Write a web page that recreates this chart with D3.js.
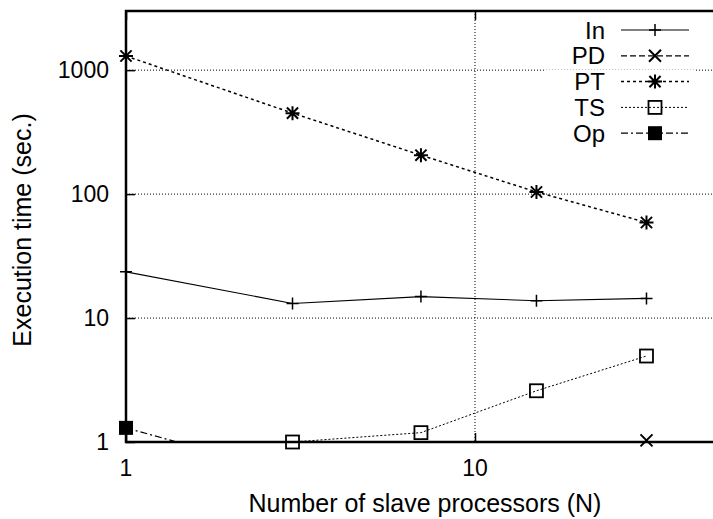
<!DOCTYPE html>
<html>
<head>
<meta charset="utf-8">
<script src="https://cdnjs.cloudflare.com/ajax/libs/d3/7.8.5/d3.min.js"></script>
<style>
  body { margin: 0; background: #fff; }
  text { font-family: "Liberation Sans", Arial, sans-serif; fill: #000; }
</style>
</head>
<body>
<script>
// Execution time vs number of slave processors (log-log)
// ---------------------------------------------
var procs   = [1, 3, 7, 15, 31];
var inTimes = [23.6, 13.1, 14.9, 13.8, 14.4];
var pdTimes = [null, null, null, null, 1.03];
var ptTimes = [1300, 450, 206, 104, 59];
var tsTimes = [null, 1.0, 1.19, 2.59, 4.94];
var opTimes = [1.3, 0.55, null, null, null];

var seriesNames = ['In', 'PD', 'PT', 'TS', 'Op'];
var yTickLabels = [1, 10, 100, 1000];
var xTickLabels = [1, 10];

var w = 713;
var h = 519;
var plotLeft = 126, plotTop = 11, plotBottom = 442;
var decadeX = 349;

var x = d3.scaleLog().domain([1, 50]).range([plotLeft, plotLeft + decadeX * Math.log10(50)]);
var y = d3.scaleLog().domain([1, 3000]).range([plotBottom, plotTop]);
var plotRight = x.range()[1];

var svg = d3.select('body').append('svg').attr('width', w).attr('height', h);

svg.append('defs').append('clipPath').attr('id', 'plot')
  .append('rect').attr('x', plotLeft).attr('y', plotTop)
  .attr('width', plotRight - plotLeft).attr('height', plotBottom - plotTop);

// grid
svg.append('g').selectAll('line').data([10, 100, 1000]).enter().append('line')
  .attr('x1', plotLeft).attr('x2', plotRight)
  .attr('y1', function(d) { return y(d); }).attr('y2', function(d) { return y(d); })
  .attr('stroke', '#000').attr('stroke-width', 1).attr('stroke-dasharray', '1,2');
svg.append('g').selectAll('line').data([10]).enter().append('line')
  .attr('y1', plotTop).attr('y2', plotBottom)
  .attr('x1', function(d) { return x(d); }).attr('x2', function(d) { return x(d); })
  .attr('stroke', '#000').attr('stroke-width', 1).attr('stroke-dasharray', '1,2');

// minor tick values
var yMinor = [], xMinor = [];
[1, 10, 100, 1000].forEach(function(b) {
  for (var k = 2; k <= 9; k++) if (b * k <= 3000) yMinor.push(b * k);
});
[1, 10].forEach(function(b) {
  for (var k = 2; k <= 9; k++) if (b * k <= 50) xMinor.push(b * k);
});

// left axis (ticks inward)
var yAxis = svg.append('g').attr('transform', 'translate(' + plotLeft + ',0)');
yAxis.call(d3.axisRight(y).tickValues(yMinor).tickSize(5).tickFormat(''));
yAxis.call(d3.axisRight(y).tickValues(yTickLabels).tickSize(9).tickFormat(''));
yAxis.selectAll('.domain').remove();
yAxis.selectAll('line').attr('stroke-width', 1.5);

svg.append('g').selectAll('text').data(yTickLabels).enter().append('text')
  .attr('x', plotLeft - 17).attr('y', function(d) { return y(d); })
  .attr('dy', '0.36em').attr('text-anchor', 'end')
  .attr('font-size', '23px').text(function(d) { return d; });

// bottom axis (ticks inward)
var xAxis = svg.append('g').attr('transform', 'translate(0,' + plotBottom + ')');
xAxis.call(d3.axisTop(x).tickValues(xMinor).tickSize(5).tickFormat(''));
xAxis.call(d3.axisTop(x).tickValues(xTickLabels).tickSize(9).tickFormat(''));
xAxis.selectAll('.domain').remove();
xAxis.selectAll('line').attr('stroke-width', 1.5);

// top border ticks
var xTop = svg.append('g').attr('transform', 'translate(0,' + plotTop + ')');
xTop.call(d3.axisBottom(x).tickValues(xMinor).tickSize(5).tickFormat(''));
xTop.call(d3.axisBottom(x).tickValues(xTickLabels).tickSize(9).tickFormat(''));
xTop.selectAll('.domain').remove();
xTop.selectAll('line').attr('stroke-width', 1.5);

svg.append('g').selectAll('text').data(xTickLabels).enter().append('text')
  .attr('x', function(d) { return x(d); }).attr('y', plotBottom + 34)
  .attr('text-anchor', 'middle')
  .attr('font-size', '23px').text(function(d) { return d; });

// border
svg.append('path')
  .attr('d', 'M' + plotRight + ',' + plotTop + 'H' + plotLeft + 'V' + plotBottom + 'H' + plotRight)
  .attr('fill', 'none').attr('stroke', '#000').attr('stroke-width', 2.5);

// axis titles
svg.append('text').attr('x', 425).attr('y', 512).attr('text-anchor', 'middle')
  .attr('font-size', '25px')
  .text('Number of slave processors (N)');
svg.append('text').attr('transform', 'translate(31,230) rotate(-90)')
  .attr('text-anchor', 'middle')
  .attr('font-size', '25px').text('Execution time (sec.)');

// series
var series = [
  { name: 'In', vals: inTimes, dash: null, width: 1.1, marker: 'plus' },
  { name: 'PD', vals: pdTimes, dash: '6,3', width: 1.2, marker: 'cross' },
  { name: 'PT', vals: ptTimes, dash: '3,3', width: 1.5, marker: 'star' },
  { name: 'TS', vals: tsTimes, dash: '2,2', width: 1, marker: 'box' },
  { name: 'Op', vals: opTimes, dash: '7,3,2,3', width: 1.2, marker: 'fbox' }
];

var line = d3.line()
  .defined(function(d) { return d.v != null; })
  .x(function(d) { return x(d.n); })
  .y(function(d) { return y(d.v); });

function drawMarker(g, type, cx, cy) {
  var s;
  if (type === 'plus') {
    s = 6;
    g.append('path').attr('d', 'M' + (cx - s) + ',' + cy + 'H' + (cx + s) + 'M' + cx + ',' + (cy - s) + 'V' + (cy + s))
      .attr('stroke', '#000').attr('stroke-width', 1.5);
  } else if (type === 'cross') {
    s = 6;
    g.append('path').attr('d', 'M' + (cx - s) + ',' + (cy - s) + 'L' + (cx + s) + ',' + (cy + s) +
      'M' + (cx - s) + ',' + (cy + s) + 'L' + (cx + s) + ',' + (cy - s))
      .attr('stroke', '#000').attr('stroke-width', 2);
  } else if (type === 'star') {
    s = 7;
    g.append('path').attr('d', 'M' + (cx - s) + ',' + cy + 'H' + (cx + s) + 'M' + cx + ',' + (cy - s) + 'V' + (cy + s) +
      'M' + (cx - s * 0.8) + ',' + (cy - s * 0.8) + 'L' + (cx + s * 0.8) + ',' + (cy + s * 0.8) +
      'M' + (cx - s * 0.8) + ',' + (cy + s * 0.8) + 'L' + (cx + s * 0.8) + ',' + (cy - s * 0.8))
      .attr('stroke', '#000').attr('stroke-width', 2);
  } else if (type === 'box') {
    s = 6.5;
    g.append('rect').attr('x', cx - s).attr('y', cy - s).attr('width', 2 * s).attr('height', 2 * s)
      .attr('fill', 'none').attr('stroke', '#000').attr('stroke-width', 1.8);
  } else if (type === 'fbox') {
    s = 7;
    g.append('rect').attr('x', cx - s).attr('y', cy - s).attr('width', 2 * s).attr('height', 2 * s)
      .attr('fill', '#000');
  }
}

series.forEach(function(sr) {
  var pts = procs.map(function(n, i) { return { n: n, v: sr.vals[i] }; });
  svg.append('path').datum(pts)
    .attr('clip-path', 'url(#plot)')
    .attr('d', line)
    .attr('fill', 'none').attr('stroke', '#000')
    .attr('stroke-width', sr.width)
    .attr('stroke-dasharray', sr.dash);
  var g = svg.append('g');
  pts.forEach(function(p) {
    if (p.v != null && p.v >= 1) drawMarker(g, sr.marker, x(p.n), y(p.v));
  });
});

// legend
var legendX = 605, legendY = 30, legendStep = 25.8;
var lg = svg.append('g');
series.forEach(function(sr, i) {
  var ly = legendY + i * legendStep;
  lg.append('rect').attr('x', 545).attr('y', ly - 12).attr('width', 150).attr('height', 24)
    .attr('fill', '#fff');
  lg.append('text').attr('x', legendX).attr('y', ly).attr('dy', '0.36em')
    .attr('text-anchor', 'end').attr('font-size', '24px').text(seriesNames[i]);
  lg.append('line').attr('x1', 621).attr('x2', 689).attr('y1', ly).attr('y2', ly)
    .attr('stroke', '#000').attr('stroke-width', sr.width)
    .attr('stroke-dasharray', sr.dash);
  drawMarker(lg, sr.marker, 655, ly);
});
</script>
</body>
</html>
